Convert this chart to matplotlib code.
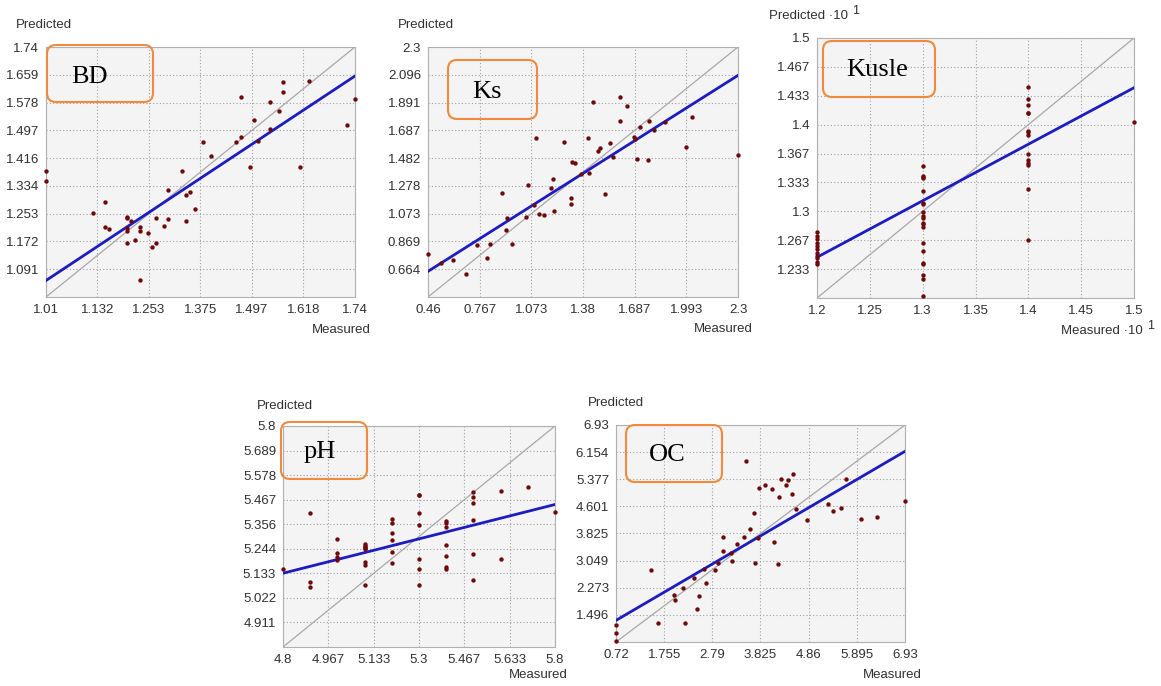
import numpy as np
import matplotlib
matplotlib.use("Agg")
import matplotlib.pyplot as plt
from matplotlib.patches import FancyBboxPatch
from matplotlib.transforms import IdentityTransform

W, H = 1161, 686

# BD
bd_measured = [1.01, 1.01, 1.121, 1.150, 1.150, 1.159, 1.201, 1.201, 1.210, 1.201,
               1.201, 1.201, 1.221, 1.231, 1.231, 1.231, 1.250, 1.260, 1.269, 1.269,
               1.289, 1.299, 1.299, 1.331, 1.341, 1.350, 1.341, 1.361, 1.380, 1.399,
               1.460, 1.471, 1.471, 1.492, 1.501, 1.510, 1.540, 1.540, 1.561, 1.571,
               1.571, 1.611, 1.631, 1.721, 1.74]
bd_predicted = [1.378, 1.350, 1.254, 1.287, 1.214, 1.208, 1.244, 1.240, 1.232, 1.211,
                1.204, 1.169, 1.175, 1.215, 1.202, 1.059, 1.198, 1.156, 1.242, 1.169,
                1.218, 1.238, 1.322, 1.378, 1.308, 1.318, 1.233, 1.266, 1.463, 1.421,
                1.463, 1.478, 1.593, 1.390, 1.526, 1.466, 1.578, 1.502, 1.554, 1.639,
                1.608, 1.390, 1.642, 1.511, 1.588]
bd_xlabels = ["1.01", "1.132", "1.253", "1.375", "1.497", "1.618", "1.74"]
bd_ylabels = ["1.091", "1.172", "1.253", "1.334", "1.416", "1.497", "1.578", "1.659", "1.74"]
bd_fit = (0.818, 0.232)  # slope, intercept

# Ks
ks_measured = [0.46, 0.539, 0.608, 0.684, 0.751, 0.810, 0.830, 0.899, 0.923, 0.929,
               0.961, 1.040, 1.051, 1.091, 1.103, 1.121, 1.150, 1.188, 1.202, 1.206,
               1.267, 1.311, 1.311, 1.317, 1.331, 1.368, 1.410, 1.418, 1.441, 1.471,
               1.479, 1.509, 1.539, 1.557, 1.601, 1.601, 1.639, 1.682, 1.688, 1.700,
               1.718, 1.763, 1.769, 1.799, 1.866, 1.989, 2.028, 2.3]
ks_predicted = [0.779, 0.710, 0.733, 0.632, 0.845, 0.747, 0.853, 1.228, 0.951, 1.044,
                0.853, 1.047, 1.285, 1.140, 1.633, 1.071, 1.061, 1.262, 1.329, 1.093,
                1.603, 1.191, 1.145, 1.451, 1.444, 1.365, 1.628, 1.375, 1.895, 1.537,
                1.557, 1.216, 1.596, 1.493, 1.932, 1.755, 1.863, 1.635, 1.621, 1.476,
                1.711, 1.468, 1.758, 1.689, 1.746, 1.567, 1.787, 1.505]
ks_xlabels = ["0.46", "0.767", "1.073", "1.38", "1.687", "1.993", "2.3"]
ks_ylabels = ["0.664", "0.869", "1.073", "1.278", "1.482", "1.687", "1.891", "2.096", "2.3"]
ks_fit = (0.784, 0.288)

# Kusle (values shown x10^1)
kusle_measured = [1.2, 1.2, 1.2, 1.2, 1.2, 1.2, 1.2, 1.2, 1.2, 1.2, 1.2,
                  1.3, 1.3, 1.3, 1.3, 1.3, 1.3, 1.3, 1.3, 1.3, 1.3,
                  1.3, 1.3, 1.3, 1.3, 1.3, 1.3, 1.3, 1.3, 1.3, 1.3,
                  1.4, 1.4, 1.4, 1.4, 1.4, 1.4, 1.4, 1.4, 1.4, 1.4, 1.4, 1.4, 1.4, 1.4,
                  1.5]
kusle_predicted = [1.276, 1.272, 1.268, 1.264, 1.260, 1.256, 1.252, 1.249, 1.246, 1.242, 1.239,
                   1.352, 1.341, 1.340, 1.339, 1.324, 1.310, 1.309, 1.299, 1.295, 1.292,
                   1.287, 1.285, 1.282, 1.264, 1.254, 1.240, 1.239, 1.226, 1.222, 1.202,
                   1.444, 1.430, 1.423, 1.414, 1.413, 1.393, 1.391, 1.388, 1.366, 1.359,
                   1.356, 1.354, 1.326, 1.267,
                   1.403]
kusle_xlabels = ["1.2", "1.25", "1.3", "1.35", "1.4", "1.45", "1.5"]
kusle_ylabels = ["1.233", "1.267", "1.3", "1.333", "1.367", "1.4", "1.433", "1.467", "1.5"]
kusle_fit = (0.652, 0.4646)

# pH
ph_measured = [4.8, 4.9, 4.9, 4.9, 5.0, 5.0, 5.0, 5.0,
               5.1, 5.1, 5.1, 5.1, 5.1, 5.1, 5.1, 5.1,
               5.2, 5.2, 5.2, 5.2, 5.2, 5.2,
               5.3, 5.3, 5.3, 5.3, 5.3, 5.3, 5.3,
               5.4, 5.4, 5.4, 5.4, 5.4, 5.4, 5.4,
               5.5, 5.5, 5.5, 5.5, 5.5, 5.5,
               5.6, 5.6, 5.7, 5.8]
ph_predicted = [5.155, 5.406, 5.093, 5.072, 5.289, 5.226, 5.205, 5.194,
                5.267, 5.259, 5.253, 5.247, 5.243, 5.185, 5.173, 5.081,
                5.377, 5.362, 5.315, 5.285, 5.231, 5.178,
                5.490, 5.487, 5.408, 5.354, 5.197, 5.152, 5.081,
                5.368, 5.360, 5.344, 5.262, 5.214, 5.163, 5.155,
                5.502, 5.480, 5.453, 5.374, 5.220, 5.104,
                5.505, 5.199, 5.522, 5.410]
ph_xlabels = ["4.8", "4.967", "5.133", "5.3", "5.467", "5.633", "5.8"]
ph_ylabels = ["4.911", "5.022", "5.133", "5.244", "5.356", "5.467", "5.578", "5.689", "5.8"]
ph_fit = (0.311, 3.641)

# OC
oc_measured = [0.72, 0.72, 0.72, 1.472, 1.615, 1.966, 1.995, 2.167, 2.210, 2.403,
               2.468, 2.511, 2.661, 2.618, 2.847, 2.905, 3.026, 3.026, 3.191, 3.220,
               3.327, 3.478, 3.521, 3.607, 3.693, 3.707, 3.779, 3.793, 3.929, 4.079,
               4.115, 4.201, 4.223, 4.273, 4.373, 4.416, 4.509, 4.531, 4.581, 4.832,
               5.276, 5.383, 5.548, 5.662, 5.978, 6.329, 6.93]
oc_predicted = [1.196, 0.977, 0.739, 2.768, 1.263, 2.053, 1.910, 2.253, 1.263, 2.539,
                1.653, 2.025, 2.406, 2.796, 2.768, 2.987, 3.711, 3.310, 3.253, 3.025,
                3.511, 3.739, 5.911, 3.968, 4.425, 2.977, 3.691, 5.139, 5.225, 5.092,
                3.596, 2.949, 4.882, 5.396, 5.225, 5.368, 4.968, 5.539, 4.520, 4.225,
                4.682, 4.482, 4.549, 5.377, 4.253, 4.311, 4.768]
oc_xlabels = ["0.72", "1.755", "2.79", "3.825", "4.86", "5.895", "6.93"]
oc_ylabels = ["1.496", "2.273", "3.049", "3.825", "4.601", "5.377", "6.154", "6.93"]
oc_fit = (0.779, 0.778)

SANS = "Liberation Sans"
TXT = "#303030"


def fpx(x, y):
    # pixel position (from top-left) -> figure fraction
    return x / W, 1 - y / H


def add_exponent(ax, txt):
    # small raised "1" right after a "...·10" label
    ax.annotate("1", xy=(1, 1), xycoords=txt, xytext=(3, -1),
                textcoords="offset points", family=SANS, fontsize=9,
                color=TXT, ha="left", va="center", annotation_clip=False)


def plot_panel(fig, rect, measured, predicted, lo, hi, xlabels, ylabels, fit,
               name, box, name_xy, pred_xy, meas_xy, scaled=False):
    l, t, r, b = rect
    ax = fig.add_axes([l / W, 1 - b / H, (r - l) / W, (b - t) / H])
    ax.set_facecolor("#f4f4f4")
    ax.set_xlim(lo, hi)
    ax.set_ylim(lo, hi)
    ax.set_xticks(np.linspace(lo, hi, len(xlabels)))
    ax.set_xticklabels(xlabels)
    ax.set_yticks(np.linspace(lo, hi, len(ylabels) + 1)[1:])
    ax.set_yticklabels(ylabels)
    ax.tick_params(length=0, pad=5, labelsize=9.5, labelcolor=TXT)
    for lab in ax.get_xticklabels() + ax.get_yticklabels():
        lab.set_family(SANS)
    for s in ax.spines.values():
        s.set_color("#b0b0b0")
        s.set_linewidth(0.8)
    ax.grid(True, linestyle=(0, (1, 2)), color="#a0a0a0", linewidth=0.8)
    ax.set_axisbelow(True)

    ends = np.array([lo, hi])
    ax.plot(ends, ends, color="#a8a8a8", linewidth=0.9, zorder=2)
    ax.plot(ends, fit[0] * ends + fit[1], color="#1c1cc0", linewidth=2, zorder=3)
    ax.scatter(measured, predicted, s=10, color="#6e0a0a", zorder=4,
               clip_on=False, linewidths=0)

    # label box
    x0, y0, x1, y1 = box
    patch = FancyBboxPatch((x0, H - y1), x1 - x0, y1 - y0,
                           boxstyle="round,pad=0,rounding_size=9",
                           transform=IdentityTransform(), facecolor="none",
                           edgecolor="#f08a3c", linewidth=1.5, zorder=5)
    fig.add_artist(patch)
    fig.text(*fpx(*name_xy), name, family="Liberation Serif", fontsize=19,
             ha="center", va="center", color="black")

    pt = fig.text(*fpx(*pred_xy), "Predicted" + (" \u00b710" if scaled else ""),
                  family=SANS, fontsize=9.5, color=TXT, ha="left", va="center")
    mt = fig.text(*fpx(*meas_xy), "Measured" + (" \u00b710" if scaled else ""),
                  family=SANS, fontsize=9.5, color=TXT, ha="right", va="center")
    if scaled:
        add_exponent(ax, pt)
        add_exponent(ax, mt)
    return ax


fig = plt.figure(figsize=(W / 100, H / 100), dpi=100)

plot_panel(fig, (46, 47, 355, 297), bd_measured, bd_predicted, 1.01, 1.74,
           bd_xlabels, bd_ylabels, bd_fit, "BD",
           (47, 45, 153, 102), (89, 77), (16, 25), (371, 330))
plot_panel(fig, (428, 47, 738, 297), ks_measured, ks_predicted, 0.46, 2.3,
           ks_xlabels, ks_ylabels, ks_fit, "Ks",
           (448, 60, 537, 119), (487, 92), (398, 25), (753, 329))
plot_panel(fig, (817, 38, 1134, 298), kusle_measured, kusle_predicted, 1.2, 1.5,
           kusle_xlabels, kusle_ylabels, kusle_fit, "Kusle",
           (823, 41, 935, 97), (877, 70), (769, 16), (1143, 331), scaled=True)
plot_panel(fig, (283, 426, 555, 647), ph_measured, ph_predicted, 4.8, 5.8,
           ph_xlabels, ph_ylabels, ph_fit, "pH",
           (281, 422, 367, 479), (320, 452), (257, 406), (568, 675))
plot_panel(fig, (616, 425, 905, 642), oc_measured, oc_predicted, 0.72, 6.93,
           oc_xlabels, oc_ylabels, oc_fit, "OC",
           (626, 425, 722, 482), (667, 455), (588, 403), (922, 675))

fig.savefig("out.png", dpi=100, facecolor="white")
